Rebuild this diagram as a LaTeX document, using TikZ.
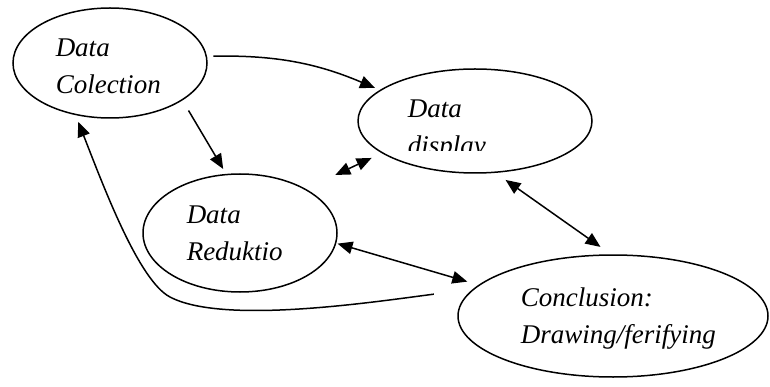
\documentclass[tikz,border=0pt]{standalone}
\usepackage{fontspec}
\setmainfont{Liberation Serif}
\usetikzlibrary{shapes.geometric,arrows.meta}

\begin{document}
\begin{tikzpicture}[x=1pt, y=-1pt, line width=1.5pt,
  arr/.style={-{Triangle[length=15pt,width=12.5pt]}},
  darr/.style={{Triangle[length=15pt,width=12.5pt]}-{Triangle[length=15pt,width=12.5pt]}},
  ell/.style={draw, ellipse, inner sep=0pt, outer sep=0pt},
  lbl/.style={anchor=base west, align=left, inner sep=0pt, font=\fontsize{27}{37}\selectfont\itshape}]
\useasboundingbox (0,0) rectangle (770,387);
\node[ell, minimum width=194pt, minimum height=110pt] (col) at (110,63) {};
\node[ell, minimum width=234pt, minimum height=104pt] (disp) at (475,121) {};
\node[ell, minimum width=194pt, minimum height=118pt] (red) at (240,233) {};
\node[ell, minimum width=310pt, minimum height=122pt] (conc) at (613,316) {};
\node[lbl] (colt) at (55,94) {Data\\Colection};
\begin{scope}
\clip (360,90) rectangle (590,151);
\node[lbl] (dispt) at (407,155) {Data\\display};
\end{scope}
\node[lbl] (redt) at (186,260) {Data\\Reduktio};
\node[lbl] (conct) at (520,343) {Conclusion:\\Drawing/ferifying};
\draw[arr, shorten <=7pt, shorten >=6pt] (col.4) to[out=1, in=157] (disp.162);
\draw[arr, shorten <=12.5pt, shorten >=6.5pt] (col.-27.5) -- (red.103);
\draw[darr, shorten <=33.5pt, shorten >=12pt] (red.34.3) -- (disp.199.2);
\draw[darr, shorten <=13.3pt, shorten >=14pt] (disp.-69.6) -- (conc.91.4);
\draw[darr, shorten <=2pt, shorten >=12.5pt] (red.-6.3) -- (conc.167.2);
\draw[arr, shorten <=40.5pt, shorten >=8pt] (conc.169.6) .. controls (373,302) and (223,325) .. (170,297)
  .. controls (139,280.8) and (104.4,188.7) .. (col.-124.2);
\end{tikzpicture}
\end{document}
